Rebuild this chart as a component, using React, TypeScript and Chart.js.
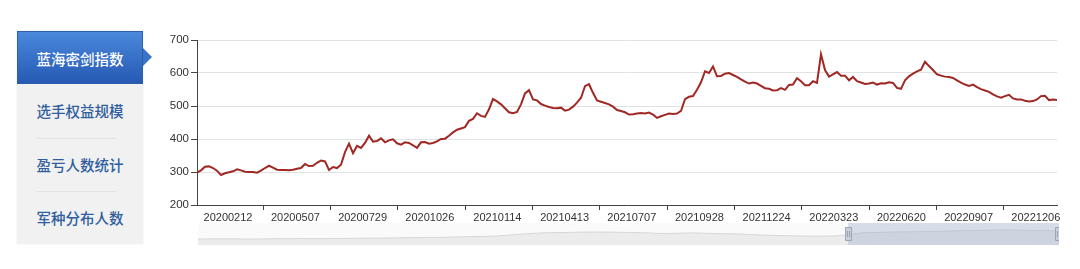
import React, { useEffect, useRef } from 'react';
import { Chart, registerables } from 'chart.js';

Chart.register(...registerables);

// Index values (sampled evenly across the visible range, 2020-01 .. 2022-12)
const indexValues: number[] = [
  298, 305, 316, 317, 312, 304, 291, 296, 299, 302,
  308, 305, 301, 300, 300, 298, 304, 312, 319, 313,
  307, 306, 306, 305, 307, 310, 312, 324, 318, 319,
  328, 335, 332, 306, 315, 312, 322, 360, 386, 357,
  379, 373, 388, 410, 392, 394, 402, 390, 396, 399,
  387, 383, 390, 388, 381, 373, 390, 391, 386, 388,
  393, 400, 401, 410, 420, 428, 432, 436, 455, 461,
  478, 470, 467, 490, 521, 514, 505, 493, 481, 478,
  482, 505, 538, 548, 520, 517, 506, 501, 497, 494,
  493, 495, 486, 489, 498, 510, 525, 560, 566, 540,
  517, 513, 509, 505, 498, 488, 485, 481, 474, 475,
  477, 479, 477, 480, 474, 464, 469, 473, 477, 476,
  477, 485, 521, 528, 530, 549, 572, 605, 600, 620,
  590, 591, 598, 600, 594, 588, 581, 574, 568, 571,
  568, 561, 554, 552, 547, 548, 554, 549, 564, 565,
  584, 575, 563, 563, 575, 570, 657, 609, 589, 596,
  603, 592, 592, 578, 588, 575, 571, 567, 568, 571,
  565, 569, 568, 572, 570, 555, 552, 578, 590, 598,
  605, 610, 634, 621, 609, 596, 592, 589, 588, 585,
  578, 571, 565, 561, 565, 557, 551, 547, 543, 535,
  529, 525, 530, 534, 523, 520, 520, 516, 514, 515,
  520, 530, 531, 518, 520, 518,
];

const dateLabels: string[] = [
  '20200212', '20200507', '20200729', '20201026', '20210114', '20210413',
  '20210707', '20210928', '20211224', '20220323', '20220620', '20220907', '20221206',
];
// position (in sample index units) of each date label and of the tick marks between them
const labelPositions: number[] = [
  7.75, 24.6, 41.4, 58.2, 75.1, 91.9, 108.7, 125.6, 142.4, 159.2, 176.1, 192.9, 209.7,
];
const tickMarkPositions: number[] = [
  16.5, 33.3, 50.2, 67.0, 83.8, 100.7, 117.5, 134.3, 151.1, 168.0, 184.8, 201.6,
];

const yMin = 200;
const yMax = 700;
const yStep = 100;

const menuItems: string[] = ['蓝海密剑指数', '选手权益规模', '盈亏人数统计', '军种分布人数'];

// data shadow shown inside the zoom slider (full history, relative units)
const shadowValues: number[] = [
  27, 28, 27, 28, 29, 29, 30, 31, 32, 34, 35, 38, 40, 48, 55, 57, 59, 58, 56, 52,
  55, 52, 50, 45, 42, 40, 42, 55, 58, 60, 62, 65, 67, 68, 66, 64,
];
const zoomStart = 75.5; // percent
const zoomEnd = 100; // percent

const FONT = '"Liberation Sans", Arial, sans-serif';

function MainChart() {
  const ref = useRef<HTMLCanvasElement | null>(null);
  useEffect(() => {
    if (!ref.current) return;
    const labelSet = new Set(labelPositions);
    const allTicks = [0, ...labelPositions, ...tickMarkPositions, indexValues.length - 1].sort(
      (a, b) => a - b
    );
    const chart = new Chart(ref.current, {
      type: 'line',
      data: {
        labels: indexValues.map((_, i) => i),
        datasets: [
          {
            data: indexValues,
            borderColor: 'rgb(160, 40, 36)',
            borderWidth: 2,
            pointRadius: 0,
            tension: 0,
            fill: false,
          },
        ],
      },
      options: {
        animation: false,
        responsive: false,
        devicePixelRatio: 1,
        layout: { padding: { left: 10, right: 8, top: 12, bottom: 0 } },
        plugins: { legend: { display: false }, tooltip: { enabled: false } },
        scales: {
          x: {
            type: 'linear',
            min: 0,
            max: indexValues.length - 1,
            afterFit: (s: any) => {
              s.height = 23;
            },
            afterBuildTicks: (s: any) => {
              s.ticks = allTicks.map((v) => ({ value: v }));
            },
            border: { display: true, color: '#444', width: 1 },
            grid: {
              display: true,
              drawOnChartArea: false,
              drawTicks: true,
              tickLength: 5,
              tickColor: (ctx: any) =>
                ctx.tick && tickMarkPositions.includes(ctx.tick.value) ? '#444' : 'rgba(0,0,0,0)',
            },
            ticks: {
              autoSkip: false,
              maxRotation: 0,
              minRotation: 0,
              padding: 1,
              color: '#333',
              font: { family: FONT, size: 11 },
              callback: (v: any) => {
                const idx = labelPositions.indexOf(Number(v));
                return labelSet.has(Number(v)) && idx >= 0 ? dateLabels[idx] : '';
              },
            },
          },
          y: {
            min: yMin,
            max: yMax,
            afterFit: (s: any) => {
              s.width = 47;
            },
            border: { display: true, color: '#444', width: 1 },
            grid: {
              color: '#e2e2e2',
              lineWidth: 1,
              drawTicks: true,
              tickLength: 6,
              tickColor: '#444',
            },
            ticks: {
              stepSize: yStep,
              padding: 2,
              color: '#333',
              font: { family: FONT, size: 11.5 },
            },
          },
        },
      },
    });
    return () => chart.destroy();
  }, []);
  return (
    <canvas
      ref={ref}
      width={925}
      height={200}
      style={{ position: 'absolute', left: 140, top: 28, width: 925, height: 200 }}
    />
  );
}

function SliderChart() {
  const ref = useRef<HTMLCanvasElement | null>(null);
  useEffect(() => {
    if (!ref.current) return;
    const windowPlugin = {
      id: 'zoomWindow',
      afterDatasetsDraw(chart: any) {
        const { ctx, chartArea } = chart;
        const w = chartArea.right - chartArea.left;
        const x0 = chartArea.left + (w * zoomStart) / 100;
        const x1 = chartArea.left + (w * zoomEnd) / 100;
        ctx.save();
        ctx.fillStyle = 'rgba(160, 178, 205, 0.4)';
        ctx.fillRect(x0, chartArea.top, x1 - x0, chartArea.bottom - chartArea.top);
        const cy = (chartArea.top + chartArea.bottom) / 2;
        [x0, x1 - 1].forEach((hx) => {
          ctx.fillStyle = '#c8cfd9';
          ctx.strokeStyle = '#9aa5b6';
          ctx.lineWidth = 1;
          ctx.beginPath();
          ctx.rect(Math.round(hx - 3) + 0.5, cy - 6.5, 6, 13);
          ctx.fill();
          ctx.stroke();
          ctx.beginPath();
          ctx.moveTo(Math.round(hx - 1) + 0.5, cy - 3);
          ctx.lineTo(Math.round(hx - 1) + 0.5, cy + 3);
          ctx.moveTo(Math.round(hx + 1) + 0.5, cy - 3);
          ctx.lineTo(Math.round(hx + 1) + 0.5, cy + 3);
          ctx.stroke();
        });
        ctx.restore();
      },
    };
    const chart = new Chart(ref.current, {
      type: 'line',
      data: {
        labels: shadowValues.map((_, i) => i),
        datasets: [
          {
            data: shadowValues,
            borderColor: '#d6d6d6',
            borderWidth: 1,
            backgroundColor: '#ececec',
            fill: 'origin',
            pointRadius: 0,
            tension: 0.3,
          },
        ],
      },
      options: {
        animation: false,
        responsive: false,
        devicePixelRatio: 1,
        layout: { padding: 0 },
        plugins: { legend: { display: false }, tooltip: { enabled: false } },
        scales: {
          x: { type: 'linear', display: false, min: 0, max: shadowValues.length - 1 },
          y: { display: false, min: 0, max: 100 },
        },
      },
      plugins: [windowPlugin],
    });
    return () => chart.destroy();
  }, []);
  return (
    <canvas
      ref={ref}
      width={861}
      height={22}
      style={{
        position: 'absolute',
        left: 198,
        top: 223,
        width: 861,
        height: 22,
        background: '#fafafa',
      }}
    />
  );
}

function Sidebar() {
  const itemH = 53.3;
  return (
    <>
      <div
        style={{
          position: 'absolute',
          left: 17,
          top: 31,
          width: 126,
          height: 213,
          background: '#f1f1f1',
          boxShadow: '0 0 2px rgba(0,0,0,0.08)',
        }}
      />
      {menuItems.map((label, i) => {
        const active = i === 0;
        return (
          <div
            key={label}
            style={{
              position: 'absolute',
              left: 17,
              top: 31 + i * itemH,
              width: 126,
              height: itemH,
              lineHeight: `${itemH}px`,
              textAlign: 'center',
              fontFamily: '"Noto Sans CJK SC", sans-serif',
              fontSize: 14.5,
              fontWeight: 500,
              color: active ? '#ffffff' : '#2f5d9d',
              background: active ? 'linear-gradient(#4a89dc, #2659b3)' : 'transparent',
              boxSizing: 'border-box',
              border: active ? '1px solid #2d5ea9' : 'none',
            }}
          >
            {label}
          </div>
        );
      })}
      <div
        style={{
          position: 'absolute',
          left: 143,
          top: 48,
          width: 0,
          height: 0,
          borderTop: '9px solid transparent',
          borderBottom: '9px solid transparent',
          borderLeft: '9px solid #3a74c8',
        }}
      />
      {[1, 2].map((k) => (
        <div
          key={k}
          style={{
            position: 'absolute',
            left: 37,
            top: Math.round(31 + (k + 1) * itemH),
            width: 80,
            height: 1,
            background: '#e3e3e3',
          }}
        />
      ))}
    </>
  );
}

export default function App() {
  return (
    <div
      style={{
        position: 'absolute',
        left: 0,
        top: 0,
        width: 1080,
        height: 269,
        background: '#ffffff',
        overflow: 'hidden',
      }}
    >
      <Sidebar />
      <MainChart />
      <SliderChart />
    </div>
  );
}
